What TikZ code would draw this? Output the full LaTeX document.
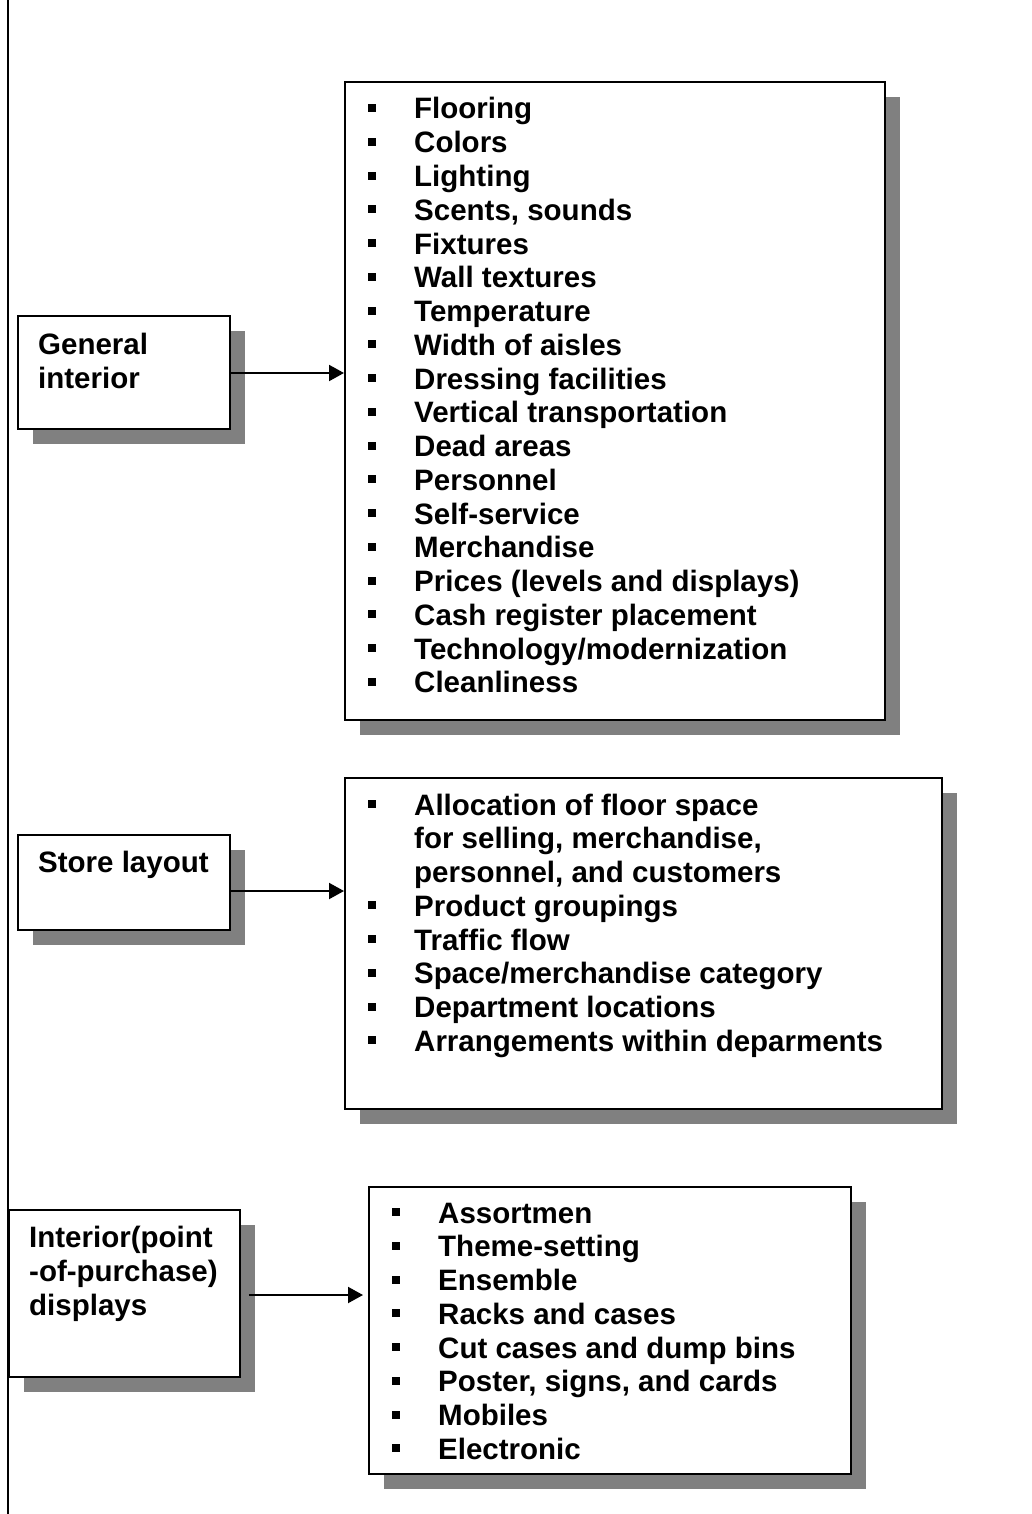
\documentclass[tikz,border=0pt]{standalone}
\usepackage{fontspec}
\setmainfont{Liberation Sans}
\usetikzlibrary{arrows.meta}
\tikzset{
  frame/.style={draw=black, line width=1.8pt, fill=white, inner sep=0pt, anchor=north west},
  shade/.style={fill=black!50},
  label/.style={anchor=base west, inner sep=0pt, font=\bfseries\fontsize{29.5}{34}\selectfont},
  link/.style={line width=2pt, -{Triangle[length=15pt, width=16pt]}},
}
% shadowed box: name, left, top, right, bottom
\newcommand\shadedbox[5]{%
  \fill[shade] (#2+16,#3+16) rectangle (#4+16,#5+16);
  \node[frame, minimum width=#4-#2, minimum height=#5-#3] (#1) at (#2,#3) {};
}
\begin{document}
\begin{tikzpicture}[x=1pt, y=-1pt]
  \useasboundingbox (0,0) rectangle (1031,1514);
  \fill[white] (0,0) rectangle (1031,1514);

  % vertical rule along the left edge
  \coordinate (rtop) at (8,0);
  \coordinate (rbot) at (8,1514);
  \draw[line width=1.5pt] (rtop) -- (rbot);

  % boxes
  \shadedbox{gi}{17}{315}{229}{428}
  \shadedbox{l1}{344}{81}{884}{719}
  \shadedbox{sl}{17}{834}{229}{929}
  \shadedbox{l2}{344}{777}{941}{1108}
  \shadedbox{ip}{8}{1209}{239}{1376}
  \shadedbox{l3}{368}{1186}{850}{1473}

  % left-hand headings
  \node[label] (gi1) at (38,354) {General};
  \node[label] (gi2) at (38,388) {interior};
  \node[label] (sl1) at (38,872) {Store layout};
  \node[label] (ip1) at (29,1247) {Interior(point};
  \node[label] (ip2) at (29,1281) {-of-purchase)};
  \node[label] (ip3) at (29,1315) {displays};

  % general interior list
  \foreach \t [count=\i from 0] in {Flooring, Colors, Lighting, {Scents, sounds},
      Fixtures, Wall textures, Temperature, Width of aisles, Dressing facilities,
      Vertical transportation, Dead areas, Personnel, Self-service, Merchandise,
      Prices (levels and displays), Cash register placement,
      Technology/modernization, Cleanliness} {
    \node[label] (a\i) at (414,119+33.76*\i) {\t};
    \fill (368,104+33.76*\i) rectangle +(8,8);
  }

  % store layout list
  \node[label] (b0) at (414,815) {Allocation of floor space};
  \node[label] (b0a) at (414,815+33.76) {for selling, merchandise,};
  \node[label] (b0b) at (414,815+2*33.76) {personnel, and customers};
  \fill (368,815-15) rectangle +(8,8);
  \foreach \t [count=\i from 3] in {Product groupings, Traffic flow,
      Space/merchandise category, Department locations,
      Arrangements within deparments} {
    \node[label] (b\i) at (414,815+33.76*\i) {\t};
    \fill (368,800+33.76*\i) rectangle +(8,8);
  }

  % display list
  \foreach \t [count=\i from 0] in {Assortmen, Theme-setting, Ensemble,
      Racks and cases, Cut cases and dump bins, {Poster, signs, and cards},
      Mobiles, Electronic} {
    \node[label] (c\i) at (438,1223+33.76*\i) {\t};
    \fill (392,1208+33.76*\i) rectangle +(8,8);
  }

  % connectors
  \draw[link] (gi.east |- 0,373) -- (l1.west |- 0,373);
  \draw[link] (sl.east |- 0,891) -- (l2.west |- 0,891);
  \draw[link, shorten >=5pt] ([xshift=8pt]ip.east |- 0,1295) -- (l3.west |- 0,1295);
\end{tikzpicture}
\end{document}
